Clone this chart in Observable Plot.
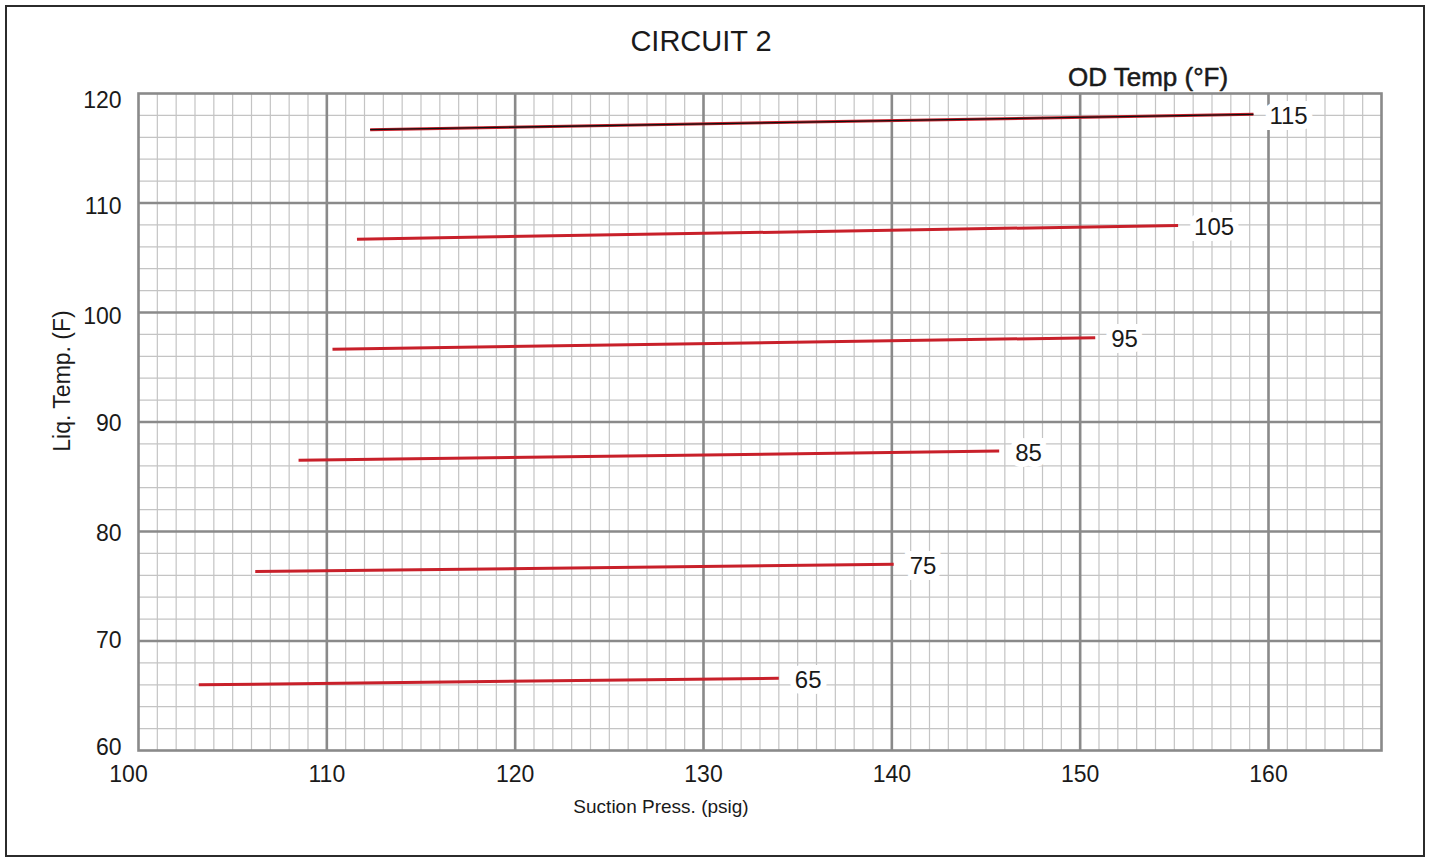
<!DOCTYPE html>
<html>
<head>
<meta charset="utf-8">
<script src="https://cdn.jsdelivr.net/npm/d3@7"></script>
<script src="https://cdn.jsdelivr.net/npm/@observablehq/plot@0.6"></script>
<style>
  html, body { margin: 0; padding: 0; background: #fff; }
  #wrap { position: relative; width: 1431px; height: 858px; }
  #border { position: absolute; left: 5px; top: 5px; width: 1416px; height: 848px; border: 2px solid #2b2b2b; pointer-events: none; }
</style>
</head>
<body>
<div id="wrap"><div id="border"></div></div>
<script>
// Data
const odTemps    = [115, 105, 95, 85, 75, 65];
const startPress = [112.3, 111.6, 110.3, 108.5, 106.2, 103.2];
const startLiq   = [116.7, 106.7, 96.65, 86.5, 76.35, 66.0];
const endPress   = [159.2, 155.2, 150.8, 145.7, 140.1, 134.0];
const endLiq     = [118.1, 107.95, 97.7, 87.35, 77.0, 66.6];

const xTicks = [110, 120, 130, 140, 150, 160];
const xFirstTick = [100];
const yTicksTop = [120];
const yTicksUpper = [110, 100];
const yTicksMid = [90, 80];
const yTicksLow = [70];
const yTicksBottom = [60];
const xMinor = d3.range(100, 167, 1);
const yMinor = d3.range(60, 121, 2);
const xMajor = [110, 120, 130, 140, 150, 160];
const yMajor = [70, 80, 90, 100, 110];

const title = "CIRCUIT 2";
const legendTitle = "OD Temp (°F)";
const xLabel = "Suction Press. (psig)";
const yLabel = "Liq. Temp. (F)";

const rows = odTemps.map((t, i) => ({
  t, x1: startPress[i], y1: startLiq[i], x2: endPress[i], y2: endLiq[i]
}));

const sans = "'Liberation Sans', Arial, sans-serif";
const ink = "#1a1a1a";
const yAxisOpts = (dy) => ({ tickSize: 0, tickPadding: 17, label: null, fontSize: 23, dy, fill: ink });

const chart = Plot.plot({
  width: 1431,
  height: 858,
  marginLeft: 138,
  marginRight: 50,
  marginTop: 93,
  marginBottom: 108,
  style: { fontFamily: sans, fontSize: "22px", color: ink, background: "transparent" },
  x: { domain: [100, 166] },
  y: { domain: [60, 120] },
  marks: [
    Plot.ruleX(xMinor, { stroke: "#c4c4c4", strokeWidth: 1.2 }),
    Plot.ruleY(yMinor, { stroke: "#c4c4c4", strokeWidth: 1.2 }),
    Plot.ruleX(xMajor, { stroke: "#8a8a8a", strokeWidth: 2.6 }),
    Plot.ruleY(yMajor, { stroke: "#8a8a8a", strokeWidth: 2.6 }),
    Plot.frame({ stroke: "#8a8a8a", strokeWidth: 2.6 }),
    Plot.axisX(xTicks, { tickSize: 0, tickPadding: 15, label: null, fontSize: 23, fill: ink }),
    Plot.axisX(xFirstTick, { tickSize: 0, tickPadding: 15, label: null, fontSize: 23, dx: -10, fill: ink }),
    Plot.axisY(yTicksTop, yAxisOpts(7)),
    Plot.axisY(yTicksUpper, yAxisOpts(4)),
    Plot.axisY(yTicksMid, yAxisOpts(2)),
    Plot.axisY(yTicksLow, yAxisOpts(0)),
    Plot.axisY(yTicksBottom, yAxisOpts(-3)),
    Plot.link(rows, { x1: "x1", y1: "y1", x2: "x2", y2: "y2", stroke: "#c8202a", strokeWidth: 3 }),
    Plot.link(rows.filter(d => d.t === 115), { x1: "x1", y1: "y1", x2: "x2", y2: "y2", stroke: "#111", strokeWidth: 1.3 }),
    Plot.text(rows, { x: "x2", y: "y2", text: d => String(d.t), dx: 16, dy: 2, textAnchor: "start",
      fontSize: 24, fill: ink, stroke: "white", strokeWidth: 12, paintOrder: "stroke", strokeLinejoin: "miter" }),
    Plot.text([title], { frameAnchor: "top", dx: -59, dy: -63, fontSize: 29, fill: ink }),
    Plot.text([legendTitle], { frameAnchor: "top", dx: 388, dy: -26, fontSize: 26, fill: ink, stroke: ink, strokeWidth: 0.5 }),
    Plot.text([xLabel], { frameAnchor: "bottom", dx: -99, dy: 62, fontSize: 19, fill: ink }),
    Plot.text([yLabel], { frameAnchor: "left", textAnchor: "middle", dx: -76, dy: -41, rotate: -90, fontSize: 23, fill: ink })
  ]
});
document.getElementById("wrap").prepend(chart);
</script>
</body>
</html>
